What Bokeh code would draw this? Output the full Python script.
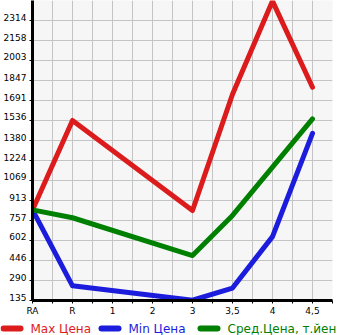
import numpy as np
from bokeh.plotting import figure
from bokeh.layouts import column
from bokeh.models import FixedTicker, Range1d, LinearAxis, CustomLabelingPolicy
from bokeh.core.properties import value
from bokeh.embed import file_html
from bokeh.resources import INLINE

categories = ["RA", "R", "1", "2", "3", "3,5", "4", "4,5"]
point_cats = ["RA", "R", "3", "3,5", "4", "4,5"]
max_price = [840, 1536, 835, 1740, 2465, 1795]
min_price = [840, 249, 137, 232, 632, 1436]
avg_price = [840, 779, 485, 797, 1173, 1549]
y_tick_labels = ["135", "290", "446", "602", "757", "913", "1069", "1224",
                 "1380", "1536", "1691", "1847", "2003", "2158", "2314"]
legend_labels = ["Max Цена", "Min Цена", "Сред.Цена, т.йен"]
colors = ["#dc1c1c", "#1c1cdc", "#008000"]

x_pos = [categories.index(c) for c in point_cats]
y_ticks = [int(s) for s in y_tick_labels]
y_step = (y_ticks[-1] - y_ticks[0]) / (len(y_ticks) - 1)
n_cat = len(categories)
y_start, y_end = y_ticks[0], y_ticks[0] + y_step * len(y_ticks)
px_per_unit = 20.0 / y_step
shift = 3.5 / px_per_unit  # raise labels so they sit above their tick

FONT = "DejaVu Sans"

p = figure(frame_width=300, frame_height=300, output_backend="svg", toolbar_location=None,
           x_range=Range1d(0, n_cat - 0.5), y_range=Range1d(y_start, y_end),
           min_border_left=31, min_border_right=14, min_border_top=0, min_border_bottom=16)
p.frame_align = False
p.background_fill_color = "#f6f6f6"
p.border_fill_color = "white"
p.outline_line_color = None

p.extra_y_ranges = {"lab": Range1d(y_start - shift, y_end - shift)}
lab_axis = LinearAxis(y_range_name="lab", ticker=FixedTicker(ticks=y_ticks),
                      major_label_overrides={v: s for v, s in zip(y_ticks, y_tick_labels)},
                      axis_line_color=None, major_tick_line_color=None, minor_tick_line_color=None,
                      major_tick_in=0, major_tick_out=0, minor_tick_in=0, minor_tick_out=0,
                      major_label_text_font=FONT, major_label_text_font_size="9px",
                      major_label_text_color="black", major_label_standoff=3)
p.add_layout(lab_axis, "left")

half = list(np.arange(0, n_cat, 1.0) + 0.5)
p.xaxis.ticker = FixedTicker(ticks=list(range(n_cat)), minor_ticks=half)
p.xaxis.major_label_overrides = {i: c for i, c in enumerate(categories)}
p.xgrid.ticker = FixedTicker(ticks=sorted(list(range(n_cat)) + half))
p.yaxis[0].ticker = FixedTicker(ticks=y_ticks)

for ax in (p.xaxis[0], p.yaxis[0]):
    ax.axis_line_color = "black"
    ax.axis_line_width = 3
    ax.major_tick_line_color = "black"
    ax.minor_tick_line_color = "black"
    ax.major_tick_in = 0
    ax.major_tick_out = 3
    ax.minor_tick_in = 0
    ax.minor_tick_out = 3
    ax.major_label_text_font = FONT
    ax.major_label_text_font_size = "9px"
    ax.major_label_text_color = "black"
    ax.major_label_standoff = 3
p.xaxis[0].major_label_standoff = 2
# the inner y axis only draws the axis line and tick marks; labels come from lab_axis
p.yaxis[0].minor_tick_out = 0
p.yaxis[0].major_label_standoff = 0
p.yaxis[0].major_label_overrides = {v: "" for v in y_ticks}
p.yaxis[0].major_label_policy = CustomLabelingPolicy(code="return new Set()")

for g in (p.xgrid[0], p.ygrid[0]):
    g.grid_line_color = "#c4c4c4"
    g.grid_line_width = 1

for vals, col in zip([max_price, min_price, avg_price], colors):
    p.line(x_pos, vals, line_color=col, line_width=5, line_cap="round", line_join="round")

# legend strip below the chart, laid out in pixel units
LG_W, LG_H = 345, 19
lg = figure(frame_width=LG_W, frame_height=LG_H, output_backend="svg", toolbar_location=None,
            x_axis_type=None, y_axis_type=None, min_border=0,
            x_range=Range1d(0, LG_W), y_range=Range1d(0, LG_H))
lg.frame_align = False
lg.outline_line_color = None
lg.background_fill_color = "white"
lg.border_fill_color = "white"
lg.xgrid.visible = False
lg.ygrid.visible = False

sample_x0 = [3, 101, 200]
sample_len = 17
label_gap = 10
mid_y = 9
lg.segment(x0=sample_x0, y0=[mid_y] * 3, x1=[x + sample_len for x in sample_x0], y1=[mid_y] * 3,
           line_color=colors, line_width=6, line_cap="round")
lg.text(x=[x + sample_len + label_gap for x in sample_x0], y=[mid_y] * 3, text=legend_labels,
        text_color=colors, text_font=value(FONT), text_font_size="12px",
        text_baseline="middle", text_align="left")

layout = column(p, lg, spacing=0)
open("out.html", "w").write(file_html(layout, INLINE))
